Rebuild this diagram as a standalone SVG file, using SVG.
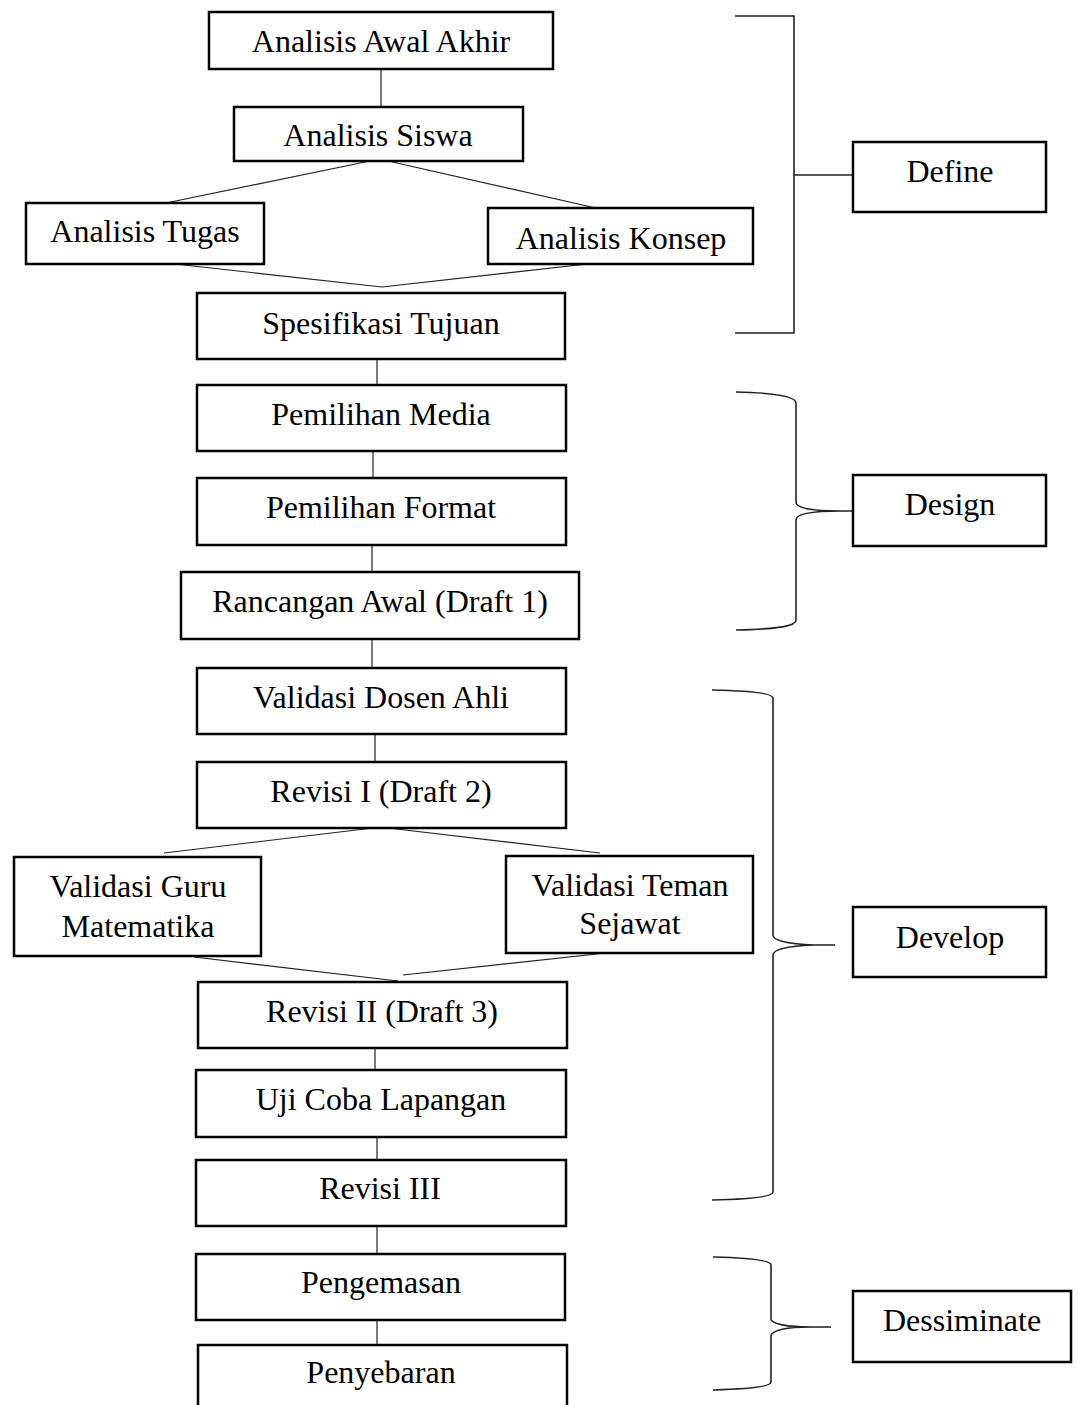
<svg xmlns="http://www.w3.org/2000/svg" width="1078" height="1405" viewBox="0 0 1078 1405">
<style>
.box{fill:#fff;stroke:#000;stroke-width:2.5}
.t{font-family:"Liberation Serif","Times New Roman",serif;font-size:32px;fill:#000;text-anchor:middle}
.c{fill:none;stroke:#222;stroke-width:1.2}
.br{fill:none;stroke:#222;stroke-width:1.6}
</style>
<rect width="1078" height="1405" fill="#fff"/>
<g id="connectors">
<line class="c" x1="381" y1="69" x2="381" y2="107"/>
<line class="c" x1="370" y1="161" x2="166" y2="203"/>
<line class="c" x1="388" y1="161" x2="596" y2="208"/>
<line class="c" x1="166" y1="263" x2="382" y2="287"/>
<line class="c" x1="596" y1="263" x2="382" y2="287"/>
<line class="c" x1="377" y1="359" x2="377" y2="385"/>
<line class="c" x1="373" y1="451" x2="373" y2="478"/>
<line class="c" x1="372" y1="545" x2="372" y2="572"/>
<line class="c" x1="372" y1="639" x2="372" y2="668"/>
<line class="c" x1="375" y1="734" x2="375" y2="762"/>
<line class="c" x1="373" y1="828" x2="164" y2="853"/>
<line class="c" x1="388" y1="828" x2="600" y2="853"/>
<line class="c" x1="194" y1="957" x2="398" y2="981"/>
<line class="c" x1="615" y1="952" x2="403" y2="975"/>
<line class="c" x1="375" y1="1048" x2="375" y2="1070"/>
<line class="c" x1="377" y1="1137" x2="377" y2="1160"/>
<line class="c" x1="377" y1="1226" x2="377" y2="1254"/>
<line class="c" x1="377" y1="1320" x2="377" y2="1345"/>
<polyline class="br" points="735,16 794,16 794,333 735,333"/>
<line class="br" x1="794" y1="175" x2="853" y2="175"/>
<path class="br" d="M736,392 C780,393 796,397 796,403 L796,502 C796,508 812,511 840,511 L853,511 M840,511 C812,511 796,514 796,520 L796,620 C796,626 780,629 736,630"/>
<path class="br" d="M712,690 C758,691 773,694 773,698 L773,935 C773,941 790,944 814,945 L835,945 M814,945 C790,946 773,949 773,955 L773,1192 C773,1196 758,1199 712,1200"/>
<path class="br" d="M713,1257 C756,1258 771,1261 771,1265 L771,1319 C771,1324 788,1327 810,1327 L831,1327 M810,1327 C788,1327 771,1330 771,1336 L771,1382 C771,1386 756,1389 713,1390"/>
</g>
<g id="n1"><rect class="box" x="209" y="12" width="344" height="57"/><text class="t" x="381" y="52">Analisis Awal Akhir</text></g>
<g id="n2"><rect class="box" x="234" y="107" width="289" height="54"/><text class="t" x="378" y="146">Analisis Siswa</text></g>
<g id="n3"><rect class="box" x="26" y="203" width="238" height="61"/><text class="t" x="145" y="242">Analisis Tugas</text></g>
<g id="n4"><rect class="box" x="488" y="208" width="265" height="56"/><text class="t" x="621" y="249">Analisis Konsep</text></g>
<g id="n5"><rect class="box" x="197" y="293" width="368" height="66"/><text class="t" x="381" y="334">Spesifikasi Tujuan</text></g>
<g id="n6"><rect class="box" x="197" y="385" width="369" height="66"/><text class="t" x="381" y="425">Pemilihan Media</text></g>
<g id="n7"><rect class="box" x="197" y="478" width="369" height="67"/><text class="t" x="381" y="518">Pemilihan Format</text></g>
<g id="n8"><rect class="box" x="181" y="572" width="398" height="67"/><text class="t" x="380" y="612">Rancangan Awal (Draft 1)</text></g>
<g id="n9"><rect class="box" x="197" y="668" width="369" height="66"/><text class="t" x="381" y="708">Validasi Dosen Ahli</text></g>
<g id="n10"><rect class="box" x="197" y="762" width="369" height="66"/><text class="t" x="381" y="802">Revisi I (Draft 2)</text></g>
<g id="n11"><rect class="box" x="14" y="857" width="247" height="99"/><text class="t" x="138" y="897">Validasi Guru</text><text class="t" x="138" y="937">Matematika</text></g>
<g id="n12"><rect class="box" x="506" y="856" width="247" height="97"/><text class="t" x="630" y="896">Validasi Teman</text><text class="t" x="630" y="934">Sejawat</text></g>
<g id="n13"><rect class="box" x="198" y="982" width="369" height="66"/><text class="t" x="382" y="1022">Revisi II (Draft 3)</text></g>
<g id="n14"><rect class="box" x="196" y="1070" width="370" height="67"/><text class="t" x="381" y="1110">Uji Coba Lapangan</text></g>
<g id="n15"><rect class="box" x="196" y="1160" width="370" height="66"/><text class="t" x="380" y="1199">Revisi III</text></g>
<g id="n16"><rect class="box" x="196" y="1254" width="369" height="66"/><text class="t" x="381" y="1293">Pengemasan</text></g>
<g id="n17"><rect class="box" x="198" y="1345" width="369" height="70"/><text class="t" x="381" y="1383">Penyebaran</text></g>
<g id="define"><rect class="box" x="853" y="142" width="193" height="70"/><text class="t" x="950" y="182">Define</text></g>
<g id="design"><rect class="box" x="853" y="475" width="193" height="71"/><text class="t" x="950" y="515">Design</text></g>
<g id="develop"><rect class="box" x="853" y="907" width="193" height="70"/><text class="t" x="950" y="948">Develop</text></g>
<g id="dessiminate"><rect class="box" x="853" y="1291" width="218" height="71"/><text class="t" x="962" y="1331">Dessiminate</text></g>
</svg>
